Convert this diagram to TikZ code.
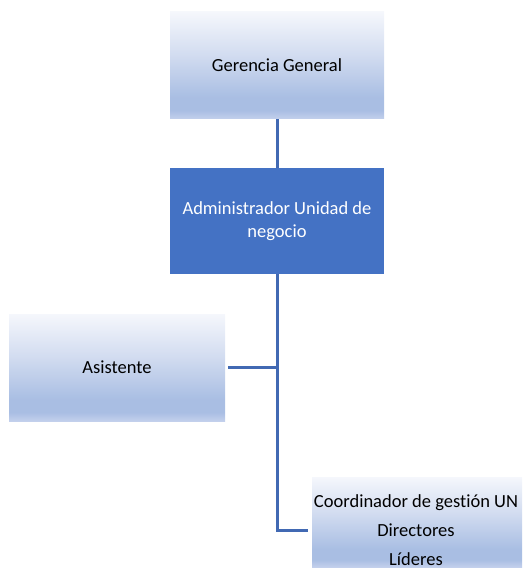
\documentclass[tikz,border=0pt]{standalone}
\usepackage{fontspec}
\setmainfont{Carlito}[Ligatures=NoCommon]
\definecolor{gradTop}{HTML}{F5F7FC}
\definecolor{gradMid}{HTML}{D2DCF0}
\definecolor{gradLow}{HTML}{A9BEE3}
\definecolor{gradBot}{HTML}{C3D0EC}
\definecolor{darkBox}{HTML}{4472C4}
\definecolor{lineBlue}{HTML}{4169B3}
\pgfdeclareverticalshading{subtlegrad}{100bp}{%
  color(0bp)=(gradBot); color(25bp)=(gradBot); color(29bp)=(gradLow);
  color(35bp)=(gradLow); color(55bp)=(gradMid); color(75bp)=(gradTop); color(100bp)=(gradTop)}
\tikzset{
  lightbox/.style={rectangle, shading=subtlegrad, draw=none, inner sep=0pt,
    font=\fontsize{18.5}{22.5}\selectfont, text=black, align=center},
  darkbox/.style={rectangle, fill=darkBox, draw=none, inner sep=0pt,
    font=\fontsize{18.5}{22.5}\selectfont, text=white, align=center},
  connector/.style={draw=lineBlue, line width=3pt},
  plaintext/.style={inner sep=0pt, font=\fontsize{18.5}{29}\selectfont, align=center}
}
\begin{document}
\begin{tikzpicture}[x=1pt,y=-1pt]
\useasboundingbox (0,0) rectangle (525,577);
\node[lightbox, minimum width=214pt, minimum height=107pt] (gg) at (277,65.5) {Gerencia General};
\node[darkbox, minimum width=214pt, minimum height=106pt] (adm) at (277,221) {Administrador Unidad de\\negocio};
\node[lightbox, minimum width=216pt, minimum height=107pt] (asi) at (117,367.5) {Asistente};
\node[lightbox, minimum width=210pt, minimum height=90pt] (coo) at (417,522) {};
\node[plaintext, anchor=base] (cootext) at (416,565) {Coordinador de gestión UN\\Directores\\Líderes};
\coordinate (j3) at (228,367);
\coordinate (j4) at (308,530);
\draw[connector] (gg.south) -- (adm.north);
\draw[connector] (adm.south) -- (adm.south |- j4) -- (j4);
\draw[connector] (j3) -- (j3 -| adm.south);
\end{tikzpicture}
\end{document}
